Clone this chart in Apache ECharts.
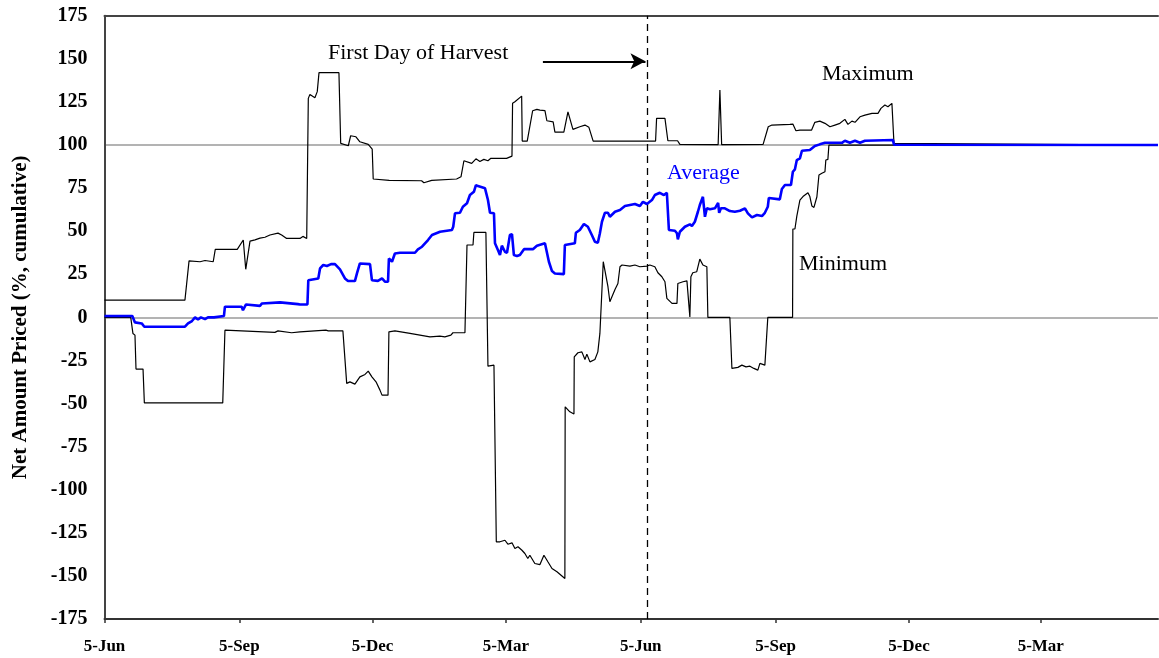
<!DOCTYPE html>
<html>
<head>
<meta charset="utf-8">
<script src="https://cdn.jsdelivr.net/npm/echarts@6/dist/echarts.min.js"></script>
<style>
html,body{margin:0;padding:0;background:#fff;}
#chart{width:1159px;height:658px;}
</style>
</head>
<body>
<div id="chart"></div>
<script>
// Days counted from 5-Jun (year 1)
const tickDays = [0, 92, 183, 274, 366, 458, 549, 639];
const tickLabels = ['5-Jun', '5-Sep', '5-Dec', '5-Mar', '5-Jun', '5-Sep', '5-Dec', '5-Mar'];
const harvestDay = 370.4;
const refLevels = [0, 100];

const maxDays = [0, 54.9, 57.7, 65.2, 68.6, 74.2, 75.6, 90.6, 94.7, 96.4, 99.3, 102.7, 106.1, 109.5, 112.9, 118.4, 120.9, 124.3, 133.4, 135.4, 138, 139.1, 140.2, 143.6, 145.2, 146.4, 160, 161.2, 166.4, 168, 171.6, 174.3, 180, 182.7, 183.4, 194.3, 216.4, 218, 223.3, 240.3, 243.3, 245.3, 250.6, 253.5, 256.2, 258.9, 261.7, 263.7, 274.4, 278.1, 278.5, 280.1, 284.7, 285.1, 288.5, 292.2, 295.1, 297.2, 300.6, 301.9, 306.2, 307.4, 313.5, 316.3, 317.6, 319.7, 321, 324.4, 327.9, 330.6, 333.5, 376.1, 376.8, 382.5, 384.5, 391.1, 392.7, 418.8, 420, 421.2, 449.5, 453, 455.5, 467.8, 469.8, 471.9, 474.6, 482.6, 484.8, 488.2, 491.7, 495.1, 498.5, 501.9, 505.3, 507.4, 510.1, 512.2, 515.6, 519, 523.8, 527.9, 529.9, 532.6, 534.7, 537.4, 538.1, 538.8, 539.5, 719];
const maxVals = [10, 10, 32.8, 32.3, 33, 32.3, 39.5, 39.5, 44.9, 27.9, 44.3, 45, 46, 46.5, 47.8, 48.9, 47.8, 45.8, 45.8, 47, 45.8, 127.1, 129.4, 127.5, 131, 142, 142, 101, 99.6, 105.4, 104.8, 101.9, 100.4, 97.7, 80.3, 79.5, 79.3, 78.1, 79.5, 80.3, 81.6, 90.9, 89.4, 92, 90.5, 91.7, 90.9, 92.3, 92.3, 93.6, 124.2, 125.1, 128.4, 102.3, 102.3, 119.9, 120.7, 120.3, 120, 114.1, 113.5, 107.5, 107.5, 119.3, 120, 109.1, 108.7, 110.6, 111.6, 110.3, 102.3, 102.3, 115.5, 115.5, 102.5, 102.5, 100.4, 100.2, 131.9, 100.2, 100.4, 110.6, 111.6, 112, 112.2, 108.3, 108.7, 108.7, 113.2, 113.9, 112.6, 110.6, 111.6, 112.6, 114.9, 112, 113.9, 113.2, 116.4, 117.4, 118.4, 118.4, 121.3, 123.2, 122.2, 124.2, 124.5, 101, 100, 100];

const avgDays = [0, 19, 20.8, 25.4, 27.2, 54.9, 57, 59.7, 61.8, 63.8, 65.8, 68.6, 70.6, 74.7, 81.5, 82.2, 93.6, 94.5, 96.6, 106.1, 107.5, 119.8, 132, 133.4, 138.5, 139.1, 145.9, 147.1, 149.3, 151.8, 154.6, 157.3, 160.7, 164.1, 166.2, 170.9, 172.3, 174.3, 181.2, 182.5, 186.6, 189.4, 191.4, 193.5, 194.1, 196.2, 198.2, 201.6, 211.9, 213.9, 216.7, 220.8, 223.5, 229, 237.1, 238, 239.2, 242.6, 244.6, 247.4, 249.4, 252.1, 253.5, 254.9, 257.6, 259.7, 261.7, 263.1, 265.8, 266.5, 268.5, 269.9, 271.2, 273.3, 274.7, 276.7, 278.1, 279.4, 281.5, 283.5, 286.3, 292.4, 295.1, 300.6, 303.3, 305.4, 307.4, 313.5, 314.2, 321, 321.7, 324.4, 327.2, 329.9, 332.6, 334.7, 336.7, 338.1, 339.5, 341.5, 343.6, 344.9, 348.4, 351.8, 355.2, 358.6, 362, 365.4, 367.5, 370.2, 373.6, 375.6, 379, 381.8, 383.8, 385.2, 389.3, 390.7, 391.3, 392.7, 396.1, 399.5, 400.9, 402.9, 405, 406.3, 408.4, 409.8, 411.1, 413.2, 416.6, 418.8, 419.5, 420.7, 423.4, 426.8, 430.2, 433.7, 437.1, 439.1, 441.9, 445.3, 448.7, 450.7, 452.7, 453.4, 460.9, 462.3, 464.4, 468.5, 469.8, 471.2, 472.5, 474.6, 476, 481.4, 484.8, 488.2, 491.7, 503.3, 505.3, 508.7, 512.2, 515.6, 519, 538.1, 538.8, 719];
const avgVals = [0.8, 0.8, -2.9, -3.5, -5.4, -5.4, -3.5, -2.1, 0, -1.2, 0, -1, 0, 0, 0.8, 6.2, 6.2, 4.2, 7.5, 6.7, 8.1, 8.7, 7.7, 7.5, 7.5, 21.6, 22.6, 28.4, 30.4, 29.8, 30.9, 30.9, 27.9, 22.6, 21.1, 21.1, 25.5, 31.3, 30.9, 21.6, 21.2, 22.6, 20.7, 20.7, 34.2, 32.3, 37.1, 37.5, 37.5, 39.5, 41, 44.9, 47.8, 49.7, 50.7, 52.6, 60.4, 60.7, 64.2, 66.2, 71, 72.9, 76.8, 76.2, 75.5, 74.9, 68.1, 60.7, 60.4, 43, 39.1, 36.2, 41.6, 38.1, 37.5, 47.8, 48.3, 36.2, 35.6, 36.2, 39.6, 39.6, 41.6, 43, 32.3, 26.9, 25.5, 25.1, 42, 43, 49.1, 50.7, 54.2, 52.6, 47.8, 43.9, 43.3, 48.8, 55.5, 60.7, 60.7, 58.4, 61.3, 62.3, 64.6, 65.2, 65.8, 64.6, 67.1, 65.8, 68.1, 71, 72.3, 71, 72.3, 50.7, 50.3, 48.8, 45.3, 49.7, 52.6, 54, 53, 55.5, 61.3, 65.2, 70, 58.4, 63.3, 62.7, 63.3, 66.5, 60.7, 63.3, 63.3, 61.7, 61.3, 61.9, 63.3, 60.4, 58, 59.4, 58.8, 60.7, 64.2, 69.3, 68.5, 74.5, 76.8, 76.8, 84.5, 85.9, 91.3, 92.3, 96.7, 97.1, 99.4, 100.4, 101.3, 101.3, 102.5, 101.3, 102.5, 101.3, 102.5, 102.9, 100.2, 100];

const minDays = [0, 17.9, 19.4, 20.8, 21.5, 26.3, 27.2, 80.7, 82.2, 116.3, 118.4, 127.7, 133.4, 151.1, 152.7, 162.7, 165.3, 167.5, 170.9, 174.3, 177.8, 180, 182.5, 185.3, 188, 189.4, 193.5, 194.1, 198.2, 208.5, 215.3, 222.1, 228.9, 232.3, 236.4, 237.8, 246, 247.4, 251.5, 252.1, 260.3, 261.7, 265.8, 267.1, 267.4, 269.9, 273.3, 275.3, 278.1, 280.1, 282.2, 284.9, 286.9, 288.9, 290.3, 293.7, 297.2, 299.9, 302.6, 305.4, 308.8, 314.2, 314.4, 317.6, 320.4, 320.6, 323.1, 325.8, 327.9, 329.2, 331.3, 334.7, 336.7, 338.1, 340.4, 341.5, 343.6, 344.9, 348.4, 350.4, 351.8, 353.2, 358.6, 362, 365.4, 370.2, 372.2, 375.6, 377.7, 380.4, 382.5, 383.8, 387.3, 390.7, 391.3, 394.8, 397.5, 399.5, 400.2, 401.5, 404.2, 406.3, 408.4, 411.1, 411.8, 426.8, 428.2, 432.3, 435, 437.8, 440.5, 443.2, 445.9, 447.3, 450.7, 452.7, 469.6, 469.8, 471.2, 472.5, 474.6, 476.7, 480.1, 481.4, 482.8, 484.2, 486.2, 487.6, 489.6, 491.7, 492.3, 493.7, 494.4, 719];
const minVals = [0, 0, -9.3, -10.3, -30, -30, -49.6, -49.6, -7.4, -8.7, -7.8, -8.9, -8.4, -7.4, -7.8, -7.8, -38.3, -37.4, -38.7, -34.5, -33.1, -31.2, -34.5, -37.4, -42.2, -45.1, -45.1, -8.4, -7.8, -9.3, -10.3, -11.3, -10.9, -11.3, -10.3, -8.9, -8.9, 42, 42, 49.3, 49.3, -28.3, -27.7, -28.7, -130.2, -130.2, -129.3, -131.6, -130.8, -134.1, -133.1, -135.1, -137, -139.9, -138, -142.8, -143.4, -138, -141.8, -145.7, -147.6, -151.5, -51.9, -54.8, -56.1, -22.9, -20.5, -20, -24.4, -21.3, -25.8, -24.4, -20, -9.3, 32.3, 32.7, 17.8, 9.1, 16.2, 19.7, 29.4, 30.4, 29.8, 30.4, 29.4, 29.8, 30.4, 29.4, 25.9, 23.6, 20.7, 11, 8.1, 8.1, 19.7, 20.7, 21.2, 0.3, 23.6, 25.9, 26.5, 33.8, 30.4, 29.4, 0, 0, -29.6, -29, -27.7, -28.7, -28.3, -29.6, -30.6, -26.7, -27.7, 0, 0, 51.3, 51.3, 58.8, 68.1, 70.1, 72.3, 70.1, 64.6, 63.8, 70, 82.6, 83.6, 84.5, 91.3, 91.7, 100, 100];

const zip = (xs, ys) => xs.map((x, i) => [x, ys[i]]);
const serif = "'Liberation Serif', 'Times New Roman', serif";

const chart = echarts.init(document.getElementById('chart'), null, {renderer: 'canvas'});
chart.setOption({
  animation: false,
  backgroundColor: '#fff',
  grid: {left: 104.5, right: 1, top: 15.8, bottom: 39},
  xAxis: [{
    type: 'value', min: 0, max: 719,
    axisLine: {show: true, onZero: false, lineStyle: {color: '#333', width: 2}},
    axisTick: {show: true, length: 4, lineStyle: {color: '#333', width: 1.5}, customValues: tickDays},
    axisLabel: {
      customValues: tickDays, margin: 19,
      fontFamily: serif, fontWeight: 'bold', fontSize: 17, color: '#000',
      formatter: v => { const i = tickDays.indexOf(Math.round(v)); return i >= 0 ? tickLabels[i] : ''; }
    },
    splitLine: {show: false}
  }, {
    type: 'value', min: 0, max: 719, position: 'top',
    axisLine: {show: true, onZero: false, lineStyle: {color: '#444', width: 2}},
    axisTick: {show: false}, axisLabel: {show: false}, splitLine: {show: false}
  }],
  yAxis: {
    type: 'value', min: -175, max: 175, interval: 25,
    name: 'Net Amount Priced (%, cumulative)',
    nameLocation: 'middle', nameGap: 73, nameRotate: 90,
    nameTextStyle: {fontFamily: serif, fontWeight: 'bold', fontSize: 21, color: '#000'},
    axisLine: {show: true, onZero: false, lineStyle: {color: '#444', width: 2}},
    axisTick: {show: false},
    axisLabel: {margin: 17, fontFamily: serif, fontWeight: 'bold', fontSize: 20, color: '#000'},
    splitLine: {show: false}
  },
  series: [
    {
      type: 'line', data: [], z: 0, silent: true,
      markLine: {
        silent: true, symbol: 'none', label: {show: false}, z: 0,
        lineStyle: {color: '#9a9a9a', width: 1.5, type: 'solid'},
        data: refLevels.map(v => ({yAxis: v}))
      }
    },
    {
      type: 'line', data: [], z: 1, silent: true,
      markLine: {
        silent: true, symbol: 'none', label: {show: false}, z: 1,
        lineStyle: {color: '#000', width: 1.3, type: [7, 5]},
        data: [{xAxis: harvestDay}]
      }
    },
    {
      type: 'line', data: [], z: 5, silent: true,
      markLine: {
        silent: true, label: {show: false}, z: 5,
        symbol: ['none', 'arrow'], symbolSize: [12, 15],
        lineStyle: {color: '#000', width: 2, type: 'solid'},
        data: [[{coord: [299.2, 148.6]}, {coord: [369.2, 148.6]}]]
      }
    },
    {name: 'Minimum', type: 'line', data: zip(minDays, minVals), showSymbol: false, z: 3,
      lineStyle: {color: '#000', width: 1.2}},
    {name: 'Maximum', type: 'line', data: zip(maxDays, maxVals), showSymbol: false, z: 3,
      lineStyle: {color: '#000', width: 1.2}},
    {name: 'Average', type: 'line', data: zip(avgDays, avgVals), showSymbol: false, z: 10,
      lineStyle: {color: '#0000ff', width: 2.6}}
  ],
  graphic: [
    {type: 'text', left: 328, top: 42, style: {text: 'First Day of Harvest', font: '22px ' + serif, fill: '#000'}},
    {type: 'text', left: 822, top: 63, style: {text: 'Maximum', font: '22px ' + serif, fill: '#000'}},
    {type: 'text', left: 667, top: 162, style: {text: 'Average', font: '22px ' + serif, fill: '#0000ff'}},
    {type: 'text', left: 799, top: 253, style: {text: 'Minimum', font: '22px ' + serif, fill: '#000'}}
  ]
});
</script>
</body>
</html>
